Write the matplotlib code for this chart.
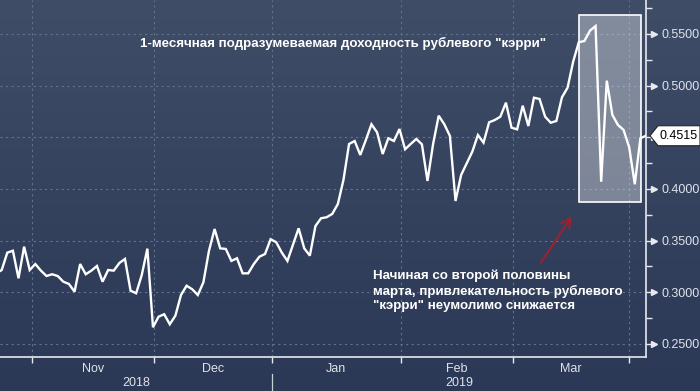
import matplotlib
matplotlib.use('Agg')
import matplotlib.pyplot as plt
import numpy as np
from matplotlib import transforms
from matplotlib.patches import Rectangle, Polygon

# ---- data ----
carry_yield = [
    0.3182, 0.3215, 0.3383, 0.3402, 0.3135, 0.3441, 0.3215, 0.3273, 0.3209, 0.3157,
    0.3174, 0.3157, 0.3102, 0.3080, 0.3005, 0.3273, 0.3174, 0.3209, 0.3254, 0.3102,
    0.3215, 0.3209, 0.3283, 0.3322, 0.3015, 0.2990, 0.3167, 0.3422, 0.2661, 0.2763,
    0.2787, 0.2690, 0.2773, 0.2973, 0.3063, 0.3029, 0.2973, 0.3096, 0.3402, 0.3612,
    0.3425, 0.3419, 0.3303, 0.3329, 0.3183, 0.3183, 0.3273, 0.3344, 0.3370, 0.3513,
    0.3484, 0.3383, 0.3303, 0.3462, 0.3619, 0.3425, 0.3354, 0.3641, 0.3716, 0.3726,
    0.3758, 0.3854, 0.4087, 0.4435, 0.4464, 0.4329, 0.4474, 0.4626, 0.4548, 0.4338,
    0.4490, 0.4464, 0.4580, 0.4384, 0.4435, 0.4484, 0.4432, 0.4077, 0.4435, 0.4709,
    0.4626, 0.4513, 0.3883, 0.4135, 0.4248, 0.4361, 0.4522, 0.4448, 0.4645, 0.4667,
    0.4699, 0.4835, 0.4593, 0.4577, 0.4806, 0.4609, 0.4883, 0.4871, 0.4699, 0.4641,
    0.4658, 0.4887, 0.4980, 0.5232, 0.5420, 0.5432, 0.5532, 0.5577, 0.4070, 0.5048,
    0.4716, 0.4619, 0.4571, 0.4403, 0.4045, 0.4490, 0.4515,
]
month_bounds = [6.354, 28.235, 49.19, 72.21, 92.20, 113.02]
month_labels = ['Nov', 'Dec', 'Jan', 'Feb', 'Mar']
year_labels = ['2018', '2019']
year_split = 49.19
y_major = [0.25, 0.30, 0.35, 0.40, 0.45, 0.50, 0.55]
y_minor = [0.275, 0.325, 0.375, 0.425, 0.475, 0.525, 0.575]
highlight_x = (104.1, 115.05)
highlight_y = (0.3871, 0.5681)
title_text = '1-месячная подразумеваемая доходность рублевого "кэрри"'
note_text = ('Начиная со второй половины\n'
             'марта, привлекательность рублевого\n'
             '"кэрри" неумолимо снижается')

plt.rcParams['font.family'] = ['Liberation Sans', 'DejaVu Sans']

W, H = 700, 391
fig = plt.figure(figsize=(W / 100, H / 100), dpi=100)

# background gradient
bg = fig.add_axes([0, 0, 1, 1], zorder=-10)
top = np.array([63, 77, 103]) / 255
bot = np.array([43, 56, 86]) / 255
t = np.linspace(0, 1, 256)[:, None]
grad = (top[None, :] * (1 - t) + bot[None, :] * t)[:, None, :]
bg.imshow(grad, aspect='auto', extent=[0, 1, 0, 1])
bg.axis('off')

ax = fig.add_axes([0, 34 / H, 646 / W, 357 / H])
ax.patch.set_alpha(0)

x = np.arange(len(carry_yield))
xlim = (0.697, len(carry_yield) - 1)
ax.set_xlim(*xlim)
ax.set_ylim(0.2373, 0.5829)

grid_c = '#60748f'
for yv in y_major:
    ax.axhline(yv, color=grid_c, lw=0.8, ls=(0, (2, 3)), zorder=1)
for xv in month_bounds:
    ax.axvline(xv, color=grid_c, lw=0.8, ls=(0, (2, 3)), zorder=1)

ax.add_patch(Rectangle((highlight_x[0], highlight_y[0]),
                       highlight_x[1] - highlight_x[0],
                       highlight_y[1] - highlight_y[0],
                       facecolor=(1, 1, 1, 0.36), edgecolor='white', lw=1.2, zorder=2))

ax.plot(x, carry_yield, color='white', lw=1.7, zorder=3, solid_joinstyle='miter')

# spines
for s in ['left', 'top']:
    ax.spines[s].set_visible(False)
ax.spines['bottom'].set_color('#e6e9ef')
ax.spines['right'].set_color('#e6e9ef')
ax.spines['bottom'].set_linewidth(1.2)
ax.spines['right'].set_linewidth(1.2)

txt_c = '#dfe3ea'
# x axis
ax.set_xticks(month_bounds)
ax.set_xticklabels([])
centers = [(a + b) / 2 for a, b in zip(month_bounds[:-1], month_bounds[1:])]
ax.set_xticks(centers, minor=True)
ax.set_xticklabels(month_labels, minor=True)
ax.tick_params(axis='x', which='major', length=4, width=1, color='#e6e9ef', direction='out')
ax.tick_params(axis='x', which='minor', length=0, pad=4, labelsize=9, labelcolor=txt_c)

# y axis on right (the 0.4500 label is covered by the last-value box)
last_val = carry_yield[-1]
ax.yaxis.tick_right()
ax.set_yticks(y_major)
ax.set_yticklabels(['' if abs(v - last_val) < 0.01 else '%.4f' % v for v in y_major])
ax.set_yticks(y_minor, minor=True)
ax.tick_params(axis='y', which='major', length=4, width=1, color='#e6e9ef', pad=7,
               labelsize=9, labelcolor=txt_c)
ax.tick_params(axis='y', which='minor', length=4, width=1, color='#e6e9ef')
trans_b = transforms.blended_transform_factory(ax.transAxes, ax.transData)
ax.plot([1 + 8.0 / 646] * len(y_major), y_major, ls='none', marker='>', ms=4.5,
        color='#e6e9ef', transform=trans_b, clip_on=False, zorder=5)

# year labels and separator
trans_x = transforms.blended_transform_factory(ax.transData, ax.transAxes)
ax.text((xlim[0] + year_split) / 2, -26 / 357, year_labels[0], transform=trans_x,
        ha='center', va='center', fontsize=9, color=txt_c)
ax.text((year_split + xlim[1]) / 2, -26 / 357, year_labels[1], transform=trans_x,
        ha='center', va='center', fontsize=9, color=txt_c)
ax.plot([year_split, year_split], [-17 / 357, -34 / 357], color='#c9cfd9', lw=0.9,
        transform=trans_x, clip_on=False)

# title & note
fig.text(343 / W, 1 - 43 / H, title_text, ha='center', va='center', fontsize=9.6,
         fontweight='bold', color='white')
fig.text(373 / W, 1 - 291 / H, note_text, ha='left', va='center', fontsize=9.6,
         fontweight='bold', color='white', linespacing=1.25)

# arrow
ax.annotate('', xy=(573.3, H - 214), xycoords='figure pixels',
            xytext=(539.3, H - 265), textcoords='figure pixels',
            arrowprops=dict(arrowstyle='->,head_length=0.7,head_width=0.35',
                            color='#a51e2e', lw=1.4))

# last value box
fig.canvas.draw()
_, yc = ax.transData.transform((x[-1], last_val))
poly = Polygon([(650, yc), (658, yc + 10), (700, yc + 10), (700, yc - 10), (658, yc - 10)],
               closed=True, facecolor='white', edgecolor='#222222', lw=0.8,
               transform=None, zorder=10)
fig.patches.append(poly)
fig.text(679 / W, yc / H, '%.4f' % last_val, ha='center', va='center',
         fontsize=9, color='black', zorder=11)

fig.savefig('out.png', dpi=100)
